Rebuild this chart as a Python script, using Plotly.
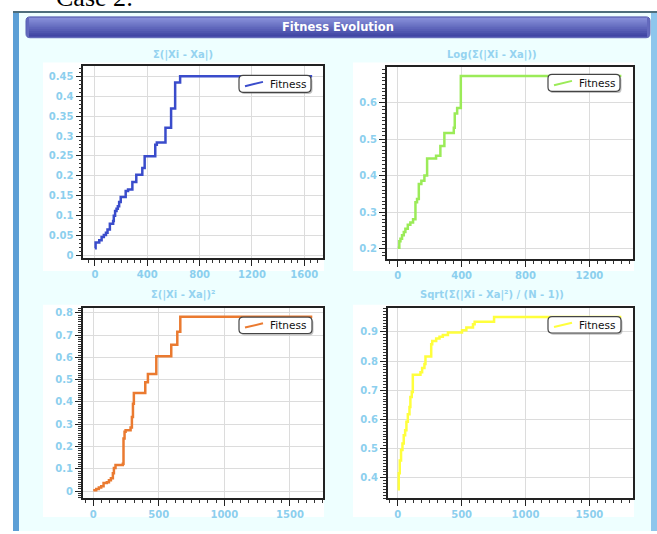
import plotly.graph_objects as go

# ---------------- data ----------------
abs_x = [0, 5, 33, 51, 68, 84, 96, 114, 139, 144, 154, 165, 175, 185, 197, 235, 253,
         286, 316, 362, 380, 461, 473, 539, 582, 613, 651, 1660]
abs_y = [0.019, 0.033, 0.039, 0.047, 0.052, 0.058, 0.066, 0.080, 0.087, 0.100, 0.112,
         0.118, 0.124, 0.135, 0.147, 0.162, 0.166, 0.185, 0.203, 0.220, 0.249, 0.278,
         0.284, 0.321, 0.369, 0.434, 0.450, 0.450]

log_x = [0, 10, 17, 27, 38, 48, 63, 79, 96, 111, 121, 132, 148, 167, 184, 240, 267,
         292, 351, 357, 372, 395, 1400]
log_y = [0.202, 0.220, 0.227, 0.236, 0.245, 0.254, 0.265, 0.271, 0.280, 0.327, 0.336,
         0.377, 0.386, 0.400, 0.447, 0.454, 0.481, 0.517, 0.531, 0.570, 0.585, 0.673, 0.673]

sq_x = [0, 23, 43, 61, 79, 104, 120, 135, 150, 158, 170, 226, 231, 239, 247, 285, 295,
        303, 310, 397, 417, 481, 595, 641, 664, 1670]
sq_y = [0.004, 0.009, 0.016, 0.021, 0.036, 0.040, 0.048, 0.058, 0.080, 0.103, 0.117,
        0.122, 0.236, 0.266, 0.273, 0.285, 0.333, 0.392, 0.440, 0.489, 0.526, 0.605,
        0.657, 0.715, 0.783, 0.783]

sd_x = [0, 8, 16, 26, 37, 47, 58, 68, 79, 92, 99, 110, 118, 178, 191, 209, 217, 262,
        270, 301, 327, 353, 393, 503, 537, 589, 602, 754, 1750]
sd_y = [0.361, 0.416, 0.459, 0.495, 0.518, 0.546, 0.563, 0.592, 0.618, 0.643, 0.677,
        0.694, 0.753, 0.762, 0.776, 0.790, 0.816, 0.858, 0.869, 0.877, 0.883, 0.889,
        0.898, 0.906, 0.915, 0.926, 0.935, 0.951, 0.951]

titles = ["Σ(|Xi - Xa|)", "Log(Σ(|Xi - Xa|))", "Σ(|Xi - Xa|)²",
          "Sqrt(Σ(|Xi - Xa|²) / (N - 1))"]
series_name = "Fitness"
header_text = "Fitness Evolution"
case_text = "Case 2:"

# ---------------- layout helpers ----------------
W, H = 657, 534


def px(a):
    return a / W


def py(a):
    return 1 - a / H


def dx(a, b):
    return [px(a), px(b)]


def dy(top, bottom):
    return [py(bottom), py(top)]


LBL = "#8CCFEE"
TICKFONT = dict(family="DejaVu Sans", size=10, color=LBL, weight="bold")

colors = ["#3A4CCB", "#9BEB58", "#EA7A30", "#FFFF3C"]
fig = go.Figure()
traces = [
    (abs_x, abs_y, colors[0], "x", "y"),
    (log_x, log_y, colors[1], "x2", "y2"),
    (sq_x, sq_y, colors[2], "x3", "y3"),
    (sd_x, sd_y, colors[3], "x4", "y4"),
]
for xs, ys, col, xa, ya in traces:
    fig.add_trace(go.Scatter(x=xs, y=ys, mode="lines", name=series_name,
                             line=dict(color=col, width=2.5, shape="hv"),
                             xaxis=xa, yaxis=ya, showlegend=False))


def ax(domain, rng, dtick, minor, anchor):
    return dict(domain=domain, range=rng, dtick=dtick, tick0=0, anchor=anchor,
                showline=True, linecolor="#222", linewidth=1.5, mirror=True,
                ticks="outside", ticklen=6, tickcolor="#222", tickwidth=1,
                showgrid=True, gridcolor="#DCDCDC", gridwidth=1.3, zeroline=False,
                tickfont=TICKFONT,
                minor=dict(dtick=minor, tick0=0, ticks="outside", ticklen=3,
                           tickcolor="#333", showgrid=False))


layout = dict(
    width=W, height=H, margin=dict(l=0, r=0, t=0, b=0),
    paper_bgcolor="white", plot_bgcolor="white", showlegend=False,
    xaxis=ax(dx(83.3, 323), [-89, 1743], 400, 50, "y"),
    yaxis=ax(dy(65, 259), [-0.0057, 0.4766], 0.05, 0.01, "x"),
    xaxis2=ax(dx(386.7, 632.7), [-69, 1471], 400, 50, "y2"),
    yaxis2=ax(dy(66, 260), [0.171, 0.699], 0.1, 0.01, "x2"),
    xaxis3=ax(dx(82.7, 323.3), [-80, 1754], 500, 62.5, "y3"),
    yaxis3=ax(dy(309.3, 500.7), [-0.031, 0.822], 0.1, 0.01, "x3"),
    xaxis4=ax(dx(387.7, 632.7), [-78.5, 1839], 500, 62.5, "y4"),
    yaxis4=ax(dy(309.3, 501), [0.33, 0.982], 0.1, 0.01, "x4"),
)

shapes = []


def rect(x0, y0, x1, y1, color, layer="below"):
    shapes.append(dict(type="rect", xref="paper", yref="paper", layer=layer,
                       x0=px(x0), x1=px(x1), y0=py(y1), y1=py(y0),
                       fillcolor=color, line=dict(width=0)))


def rounded(x0, y0, x1, y1, r):
    pts = [
        ("M", x0 + r, y0), ("L", x1 - r, y0), ("Q", x1, y0, x1, y0 + r),
        ("L", x1, y1 - r), ("Q", x1, y1, x1 - r, y1), ("L", x0 + r, y1),
        ("Q", x0, y1, x0, y1 - r), ("L", x0, y0 + r), ("Q", x0, y0, x0 + r, y0),
    ]
    s = ""
    for p in pts:
        if p[0] == "Q":
            s += "Q%.5f,%.5f %.5f,%.5f " % (px(p[1]), py(p[2]), px(p[3]), py(p[4]))
        else:
            s += "%s%.5f,%.5f " % (p[0], px(p[1]), py(p[2]))
    return s + "Z"


# window
rect(13, 10, 657, 534, "#EEFFFF")
rect(13, 10, 657, 12, "#4E6E7C")
rect(13, 12, 19, 534, "#5C9FD6")
rect(651, 12, 657, 534, "#8EC6EC")
# header: rounded base + gradient bands
top_c = (134, 142, 216)
bot_c = (64, 70, 164)
hy0, hy1 = 16, 37
shapes.append(dict(type="path", xref="paper", yref="paper", layer="below",
                   path=rounded(26, hy0, 650, hy1, 4),
                   fillcolor="rgb(100,106,190)", line=dict(color="#5A62B4", width=1)))
n = 10
for i in range(n):
    t = i / (n - 1)
    c = tuple(int(top_c[k] + (bot_c[k] - top_c[k]) * t) for k in range(3))
    ya = hy0 + 1 + (hy1 - hy0 - 2) * i / n
    yb = hy0 + 1 + (hy1 - hy0 - 2) * (i + 1) / n + 0.8
    rect(29, ya, 647, min(yb, hy1 - 1), "rgb(%d,%d,%d)" % c)

# white chart panels
rect(43, 62, 324, 272, "white")
rect(353, 62, 634, 272, "white")
rect(43, 306, 324, 520, "white")
rect(353, 306, 634, 520, "white")

ann = []
# manual legends (one per chart)
legend_boxes = [(239, 75, 311, 92), (548, 74, 620, 91), (239, 318.5, 312, 335),
                (548, 318, 621, 334.5)]
for (x0, y0, x1, y1), col in zip(legend_boxes, colors):
    shapes.append(dict(type="path", xref="paper", yref="paper", layer="above",
                       path=rounded(x0 + 1.5, y0 + 1.8, x1 + 1.5, y1 + 1.8, 4),
                       fillcolor="rgba(120,120,120,0.45)", line=dict(width=0)))
    shapes.append(dict(type="path", xref="paper", yref="paper", layer="above",
                       path=rounded(x0, y0, x1, y1, 4),
                       fillcolor="white", line=dict(color="#444", width=1.2)))
    ym = (y0 + y1) / 2
    shapes.append(dict(type="line", xref="paper", yref="paper", layer="above",
                       x0=px(x0 + 6), y0=py(ym + 2.3), x1=px(x0 + 24), y1=py(ym - 2),
                       line=dict(color=col, width=2)))
    ann.append(dict(text=series_name, x=px(x0 + 29), y=py(ym), xref="paper",
                    yref="paper", showarrow=False, xanchor="left", yanchor="middle",
                    font=dict(family="DejaVu Sans", size=10.5, color="#111")))

layout["shapes"] = shapes

ann.append(dict(text=header_text, x=px(338), y=py(26.5), xref="paper", yref="paper",
                showarrow=False, xanchor="center", yanchor="middle",
                font=dict(family="DejaVu Sans", size=11.5, color="white", weight="bold")))
ann.append(dict(text=case_text, x=px(54), y=py(-4), xref="paper", yref="paper",
                showarrow=False, xanchor="left", yanchor="middle",
                font=dict(family="Liberation Serif", size=26, color="black")))
for t, cx, cy in zip(titles, [183, 492, 183, 492], [54, 54, 296, 296]):
    ann.append(dict(text=t, x=px(cx), y=py(cy), xref="paper", yref="paper",
                    showarrow=False, xanchor="center", yanchor="middle",
                    font=dict(family="DejaVu Sans", size=10, color="#95D3F0",
                              weight="bold")))
layout["annotations"] = ann

fig.update_layout(**layout)
fig.write_html("out.html", config={"displayModeBar": False},
               post_script="document.body.style.margin='0';document.body.style.overflow='hidden';")
